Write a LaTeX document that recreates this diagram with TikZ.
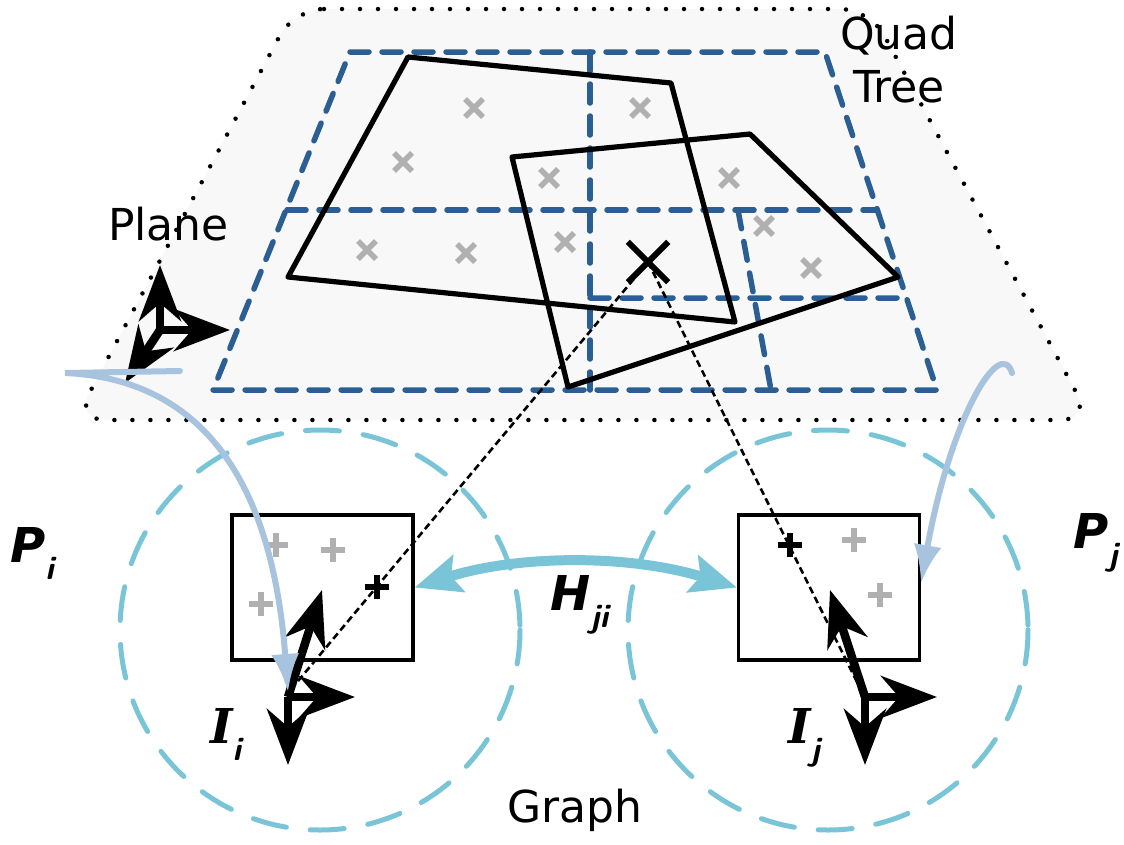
\documentclass[tikz,border=0pt]{standalone}
\usepackage{fontspec}
\setmainfont{DejaVu Sans}
\newfontfamily\serifbi{DejaVu Serif}
\definecolor{qblue}{RGB}{43,94,147}
\definecolor{cblue}{RGB}{122,196,216}
\definecolor{pblue}{RGB}{168,195,221}
\definecolor{mgray}{RGB}{176,176,176}
\definecolor{planefill}{RGB}{248,248,248}
\usetikzlibrary{arrows.meta}
\newcommand{\sub}[2]{#1\raisebox{-0.36em}{\fontsize{33}{33}\selectfont\sffamily\bfseries\itshape #2}}

\begin{document}
\begin{tikzpicture}[x=1pt, y=-1pt,
  plane/.style={draw, fill=planefill, line width=4.5pt, dash pattern=on 0pt off 18pt,
    line cap=round, rounded corners=30pt},
  grid/.style={draw=qblue, line width=5.5pt, dash pattern=on 19pt off 13pt, line cap=round},
  quad/.style={draw, line width=5.2pt, line join=round},
  gmark/.style={draw=mgray, line width=5.5pt},
  kmark/.style={draw, line width=5.5pt},
  ray/.style={draw, line width=2.6pt, dash pattern=on 7pt off 4pt},
  cover/.style={draw=cblue, line width=5pt, dash pattern=on 34pt off 24pt, line cap=round},
  img/.style={draw, line width=3.2pt, minimum width=181pt, minimum height=145pt, inner sep=0pt},
  axis/.style={line width=8.5pt, -{Stealth[length=56pt,width=42pt,inset=18pt]}},
  pose/.style={draw=pblue, line width=6pt, line cap=round, -{Latex[length=38pt,width=28pt]}},
  edge/.style={draw=cblue, line width=10pt,
    {Stealth[length=46pt,width=38pt,inset=8pt]}-{Stealth[length=46pt,width=38pt,inset=8pt]}},
  txt/.style={inner sep=0pt, font=\fontsize{44}{53}\selectfont},
  lbl/.style={inner sep=0pt, font=\fontsize{48}{50}\selectfont\bfseries\itshape},
]
\useasboundingbox (0,0) rectangle (1124,844);

% Plane with quad tree
\path[plane] (294,9) -- (870,9) -- (1091,420) -- (75,420) -- cycle;
\draw[grid] (350,52) -- (825,52) -- (937,390) -- (213,390) -- cycle;
\draw[grid] (287,210) -- (877,210) (590,52) -- (590,390);
\draw[grid] (590,298) -- (906,298) (738,210) -- (771,390);

% Keyframe footprints
\draw[quad] (408,57) -- (671,83) -- (735,322) -- (288,277) -- cycle;
\draw[quad] (512,157) -- (750,134) -- (898,277) -- (568,387) -- cycle;
\foreach \p in {(474,108),(640,108),(403,162),(549,178),(729,178),
                (367,250),(466,253),(565,242),(764,226),(811,268)}
  \draw[gmark] \p ++(-9,-9) -- ++(18,18) \p ++(-9,9) -- ++(18,-18);
\node[minimum size=40pt, inner sep=0pt] (obs) at (648,262) {};
\draw[line width=6pt] (obs.north west) -- (obs.south east)
  (obs.north east) -- (obs.south west);

% Plane frame
\coordinate (po) at (160,330);
\coordinate (pu) at (160,265);
\coordinate (pr) at (230,330);
\coordinate (pd) at (125,383);
\draw[axis] (po) -- (pu);
\draw[axis] (po) -- (pr);
\draw[axis] (po) -- (pd);

% Graph
\draw[cover] (320,630) circle (200);
\draw[cover] (828,630) circle (200);
\node[img] (imgi) at (322.5,587.5) {};
\node[img] (imgj) at (829,587.5) {};
\foreach \p in {(276,545),(333,550),(261,604),(854,540),(880,595)}
  \draw[gmark] \p ++(-12,0) -- ++(24,0) \p ++(0,-12) -- ++(0,24);
\foreach \p in {(377,587),(790,545)}
  \draw[kmark] \p ++(-12,0) -- ++(24,0) \p ++(0,-12) -- ++(0,24);

% Rays to the cameras
\coordinate (ri) at (288,693);
\coordinate (rj) at (860,688);
\draw[ray] (obs.center) -- (ri);
\draw[ray] (obs.center) -- (rj);

% Homography
\draw[edge] (imgi.east) .. controls +(105,-33) and +(-107,-33) .. (imgj.west);

% Camera frames
\coordinate (oi) at (288,697);
\coordinate (oiu) at (322,590);
\coordinate (oir) at (355,697);
\coordinate (oid) at (288,765);
\coordinate (oj) at (865,697);
\coordinate (oju) at (830,590);
\coordinate (ojr) at (937,697);
\coordinate (ojd) at (865,765);
\draw[axis] (oi) -- (oiu);
\draw[axis] (oi) -- (oir);
\draw[axis] (oi) -- (oid);
\draw[axis] (oj) -- (oju);
\draw[axis] (oj) -- (ojr);
\draw[axis] (oj) -- (ojd);

% Plane poses
\coordinate (ps) at (180,371);
\coordinate (pk) at (65,373);
\coordinate (ti) at (288,692);
\coordinate (qs) at (1012,373);
\coordinate (tj) at (921,583);
\draw[pose] (ps) -- (pk) .. controls +(115,5) and +(-18,-240) .. (ti);
\draw[pose] (qs) .. controls +(-12,-38) and +(29,-163) .. (tj);

% Labels
\node[txt, anchor=base west] (plbl) at (108,240) {Plane};
\node[txt, align=center] (qlbl) at (899,60) {Quad\\Tree};
\node[txt, anchor=base west] (glbl) at (507,822) {Graph};
\node[lbl, anchor=base west] (pil) at (10,562) {\sub{P}{i}};
\node[lbl, anchor=base west] (pjl) at (1073,548) {\sub{P}{j}};
\node[lbl, anchor=base west] (hl) at (550,610) {\sub{H}{ji}};
\node[lbl, anchor=base west] (iil) at (210,743) {\sub{{\serifbi I}}{i}};
\node[lbl, anchor=base west] (ijl) at (788,743) {\sub{{\serifbi I}}{j}};
\end{tikzpicture}
\end{document}
